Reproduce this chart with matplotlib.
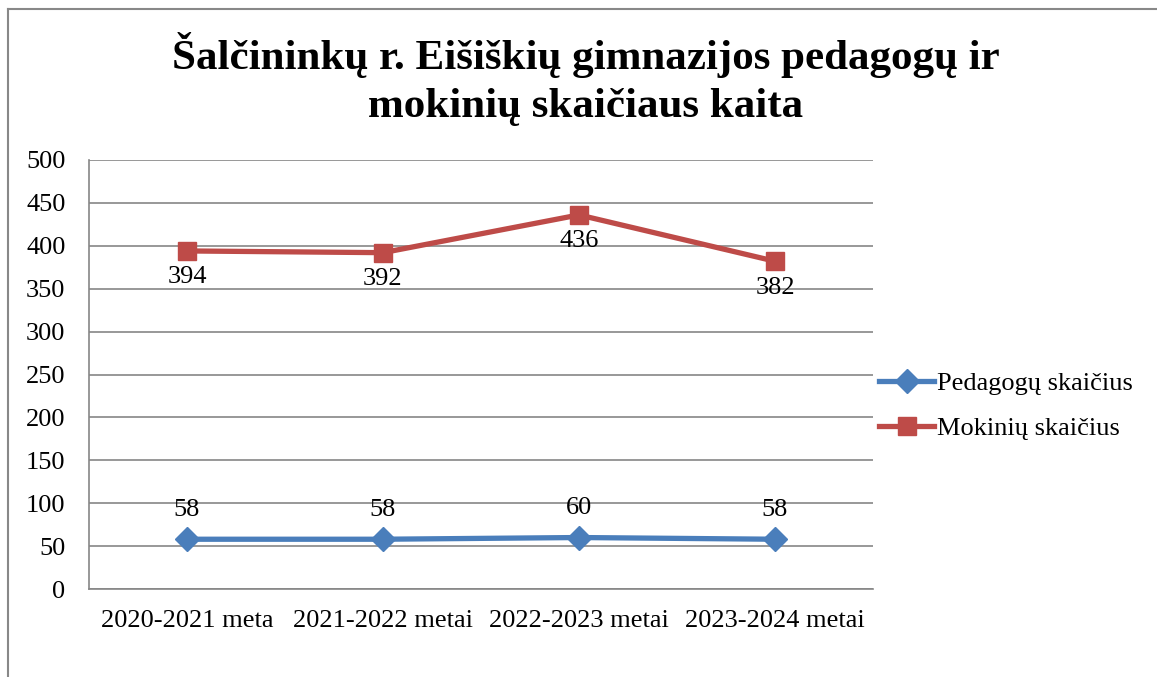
import matplotlib.pyplot as plt
from matplotlib.lines import Line2D

plt.rcParams['font.family'] = ['Liberation Serif', 'DejaVu Serif']

years = ["2020-2021 meta", "2021-2022 metai", "2022-2023 metai", "2023-2024 metai"]
teachers = [58, 58, 60, 58]
students = [394, 392, 436, 382]

fig = plt.figure(figsize=(11.57, 6.77), dpi=100)
ax = fig.add_axes([89/1157, 1 - 589/677, (873 - 89)/1157, (589 - 160)/677])

# outer chart border (only left and top visible in the reference)
fig.add_artist(Line2D([8/1157, 8/1157], [0, 1 - 9/677], color='#888888', lw=1.5))
fig.add_artist(Line2D([8/1157, 1], [1 - 9/677, 1 - 9/677], color='#888888', lw=1.5))

x = range(len(years))
ax.plot(x, teachers, color='#4a7ebb', lw=3.8, marker='D', ms=12, label='Pedagogų skaičius')
ax.plot(x, students, color='#be4b48', lw=3.8, marker='s', ms=13, label='Mokinių skaičius')

for i, v in enumerate(teachers):
    ax.annotate(str(v), (i, v), xytext=(0, 13), textcoords='offset points',
                ha='center', va='bottom', fontsize=19)
for i, v in enumerate(students):
    ax.annotate(str(v), (i, v), xytext=(0, -11), textcoords='offset points',
                ha='center', va='top', fontsize=19)

ax.set_xlim(-0.5, 3.5)
ax.set_ylim(0, 500)
ax.set_yticks(range(0, 501, 50))
ax.set_xticks(list(x))
ax.set_xticklabels(years)
ax.tick_params(length=0, labelsize=19)
ax.tick_params(axis='y', pad=17)
ax.tick_params(axis='x', pad=15)
ax.grid(axis='y', color='#868686', lw=1.2)
ax.set_axisbelow(True)
for s in ['top', 'right']:
    ax.spines[s].set_visible(False)
for s in ['left', 'bottom']:
    ax.spines[s].set_color('#868686')
    ax.spines[s].set_linewidth(1.2)

fig.suptitle("Šalčininkų r. Eišiškių gimnazijos pedagogų ir\nmokinių skaičiaus kaita",
             x=0.506, y=0.952, fontsize=31, fontweight='bold', linespacing=1.33)

fig.legend(loc='center left', bbox_to_anchor=(879/1157, 1 - 406/677), frameon=False,
           fontsize=19, handlelength=2.1, handletextpad=0.1, labelspacing=0.8,
           borderaxespad=0, borderpad=0)

fig.savefig('out.png', dpi=100)
